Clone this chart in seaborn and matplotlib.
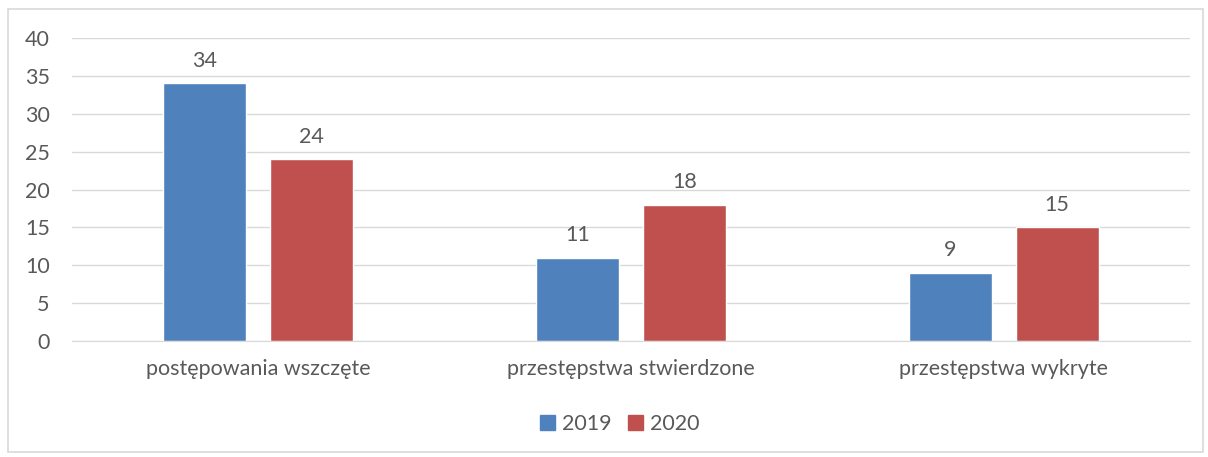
import seaborn as sns
import matplotlib.pyplot as plt
import pandas as pd
from matplotlib.patches import Rectangle

categories = ['postępowania wszczęte', 'przestępstwa stwierdzone', 'przestępstwa wykryte']
years = ['2019', '2020']
values_2019 = [34, 11, 9]
values_2020 = [24, 18, 15]
yticks = [0, 5, 10, 15, 20, 25, 30, 35, 40]

colors = ['#4F81BD', '#C0504D']
text_color = '#595959'
grid_color = '#D9D9D9'
fs = 15.5

sns.set_style('white')
plt.rcParams['font.family'] = ['Lato', 'DejaVu Sans']
plt.rcParams['font.size'] = fs

df = pd.DataFrame({
    'kategoria': categories * 2,
    'rok': [years[0]] * len(categories) + [years[1]] * len(categories),
    'wartosc': values_2019 + values_2020,
})

fig = plt.figure(figsize=(12.08, 4.57), dpi=100)
ax = fig.add_axes([0.0596, 0.2538, 0.9254, 0.663])

sns.barplot(data=df, x='kategoria', y='wartosc', hue='rok', palette=colors,
            width=0.574, gap=0.224, ax=ax, legend=False, saturation=1)

for c in ax.containers:
    ax.bar_label(c, padding=9, fontsize=fs, color=text_color)

ax.set_ylim(0, 40)
ax.set_yticks(yticks)
ax.yaxis.grid(True, color=grid_color, linewidth=1)
ax.set_axisbelow(True)
for s in ['top', 'right', 'left']:
    ax.spines[s].set_visible(False)
ax.spines['bottom'].set_color(grid_color)
ax.tick_params(axis='y', length=0, pad=16, colors=text_color, labelsize=fs)
ax.tick_params(axis='x', length=0, pad=13, colors=text_color, labelsize=fs)
ax.set_xlabel('')
ax.set_ylabel('')

handles = [Rectangle((0, 0), 1, 1, color=col) for col in colors]
fig.legend(handles, years, loc='center', bbox_to_anchor=(0.513, 1 - 424 / 457),
           ncol=2, frameon=False, handlelength=0.7, handleheight=0.7,
           handletextpad=0.3, columnspacing=0.8, labelcolor=text_color, fontsize=fs)

fig.patches.append(Rectangle((8 / 1208, 5 / 457), 1195 / 1208, 443 / 457,
                             transform=fig.transFigure, fill=False,
                             edgecolor=grid_color, linewidth=1.2))

fig.savefig('out.png', dpi=100)
